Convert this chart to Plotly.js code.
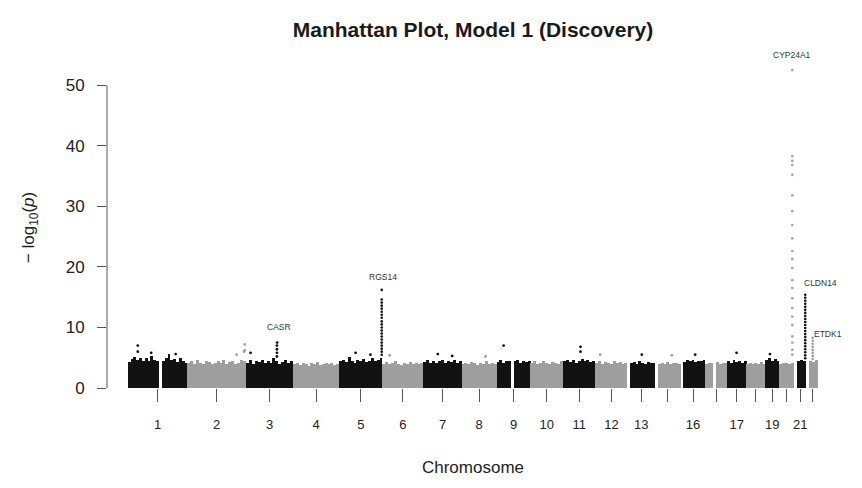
<!DOCTYPE html>
<html>
<head>
<meta charset="utf-8">
<script src="https://cdn.plot.ly/plotly-3.0.1.min.js"></script>
<style>
html,body{margin:0;padding:0;background:#fff;}
#chart{width:862px;height:488px;}
</style>
</head>
<body>
<div id="chart"></div>
<script>
// ---------------- data ----------------
const chromosomes = [1,2,3,4,5,6,7,8,9,10,11,12,13,14,15,16,17,18,19,20,21,22];
const chrLengthMb = [249.3,243.2,198.0,191.2,180.9,171.1,159.1,146.4,141.2,135.5,135.0,133.9,115.2,107.3,102.5,90.4,81.2,78.1,59.1,63.0,48.1,51.3];
const tickLabels = ["1","2","3","4","5","6","7","8","9","10","11","12","13","","16","","17","","19","","21",""];

// upper edge of the dense band of points (-log10 p), read along each chromosome
const envelope = [
  [4.3,4.8,5.2,4.6,5.0,4.4,4.9,4.5,5.3,4.7,4.5,0,4.4,4.9,5.6,4.6,4.8,4.3,5.0,4.5,4.2],
  [4.1,4.4,3.9,4.6,4.2,4.0,4.5,4.3,3.9,4.2,4.4,4.1,4.7,4.0,4.3,4.5,3.9,4.2,4.6,4.4],
  [4.2,4.6,4.0,4.4,4.3,4.7,4.1,4.5,4.2,4.9,4.4,4.0,4.3,4.6,4.2,4.4],
  [3.9,4.1,3.8,4.2,4.0,3.7,4.1,3.9,4.3,3.8,4.0,4.2,3.9,4.1,3.8,4.0],
  [4.4,4.7,4.3,5.1,4.5,4.2,4.6,4.4,4.8,4.3,4.5,4.9,4.4,4.6,5.0],
  [4.0,4.3,3.9,4.1,4.4,4.0,3.8,4.2,4.0,4.3,3.9,4.1,4.0,4.2],
  [4.3,4.6,4.2,4.5,4.1,4.4,4.7,4.2,4.5,4.3,4.6,4.2,4.4],
  [4.0,4.2,3.9,4.3,4.1,3.8,4.2,4.0,4.4,3.9,4.1,4.0],
  [4.3,4.6,4.2,4.4,4.5,0,4.4,4.7,4.2,4.5,4.3,4.4],
  [4.1,4.4,4.0,4.2,4.5,4.1,3.9,4.3,4.2,4.0,4.4],
  [4.4,4.7,4.3,4.6,4.2,4.5,4.8,4.4,4.6,4.3,4.5],
  [4.1,4.4,4.0,4.3,4.2,3.9,4.4,4.1,4.3,4.0,4.2],
  [0,4.1,4.3,4.0,4.4,4.2,3.9,4.3,4.1,4.2],
  [0,3.9,4.2,4.0,4.3,3.9,4.1,4.2,4.0],
  [0,4.3,4.6,4.4,4.7,4.3,4.5,4.4,4.6],
  [4.0,4.2,4.1,0,4.3,4.0,4.2,4.1],
  [4.4,4.2,4.6,4.3,4.5,4.2,4.4],
  [4.0,4.2,3.9,4.1,4.0,4.3,3.9],
  [4.6,4.9,4.5,4.8,4.4],
  [4.0,4.2,4.1,3.9,4.2],
  [0,4.4,4.7,4.5],
  [0,4.5,4.3,4.6]
];

// isolated points standing above the dense band
const hitChr   = [1,   1,   1,   1,   2,   2,   2,   2,   3,   3,   3,   3,   3,   3,   5,   5,   6,   7,   7,   8,   9,   11,  11,  12,  13,  14,  15,  17,  19];
const hitPosMb = [42,  42,  98,  200, 205, 236, 239, 239, 20,  130, 130, 130, 130, 131, 69,  131, 30,  60,  120, 100, 29,  73,  73,  20,  60,  70,  60,  40,  20];
const hitLogP  = [7.0, 6.0, 5.8, 5.6, 5.5, 6.0, 7.2, 6.2, 5.8, 5.2, 5.8, 6.4, 7.0, 7.5, 5.8, 5.5, 5.4, 5.6, 5.3, 5.2, 7.0, 6.8, 6.0, 5.5, 5.5, 5.4, 5.5, 5.8, 5.6];

// stacked signals (columns of points) at the annotated loci
const columnChr   = [5, 20, 21, 22];
const columnPosMb = [178, 54, 45, 28];
const rgs14LogP   = [16.2,14.6,14.1,13.6,13.1,12.6,12.1,11.6,11.0,10.5,10.0,9.5,9.0,8.5,8.0,7.5,7.0,6.5,6.0,5.5];
const cyp24a1LogP = [52.5,38.3,37.5,36.8,35.2,31.8,29.2,26.9,24.7,22.6,21.3,19.8,17.8,16.5,14.8,13.2,11.8,10.4,8.5,7.5,6.3,5.5];
const cldn14LogP  = [15.4,14.9,14.4,13.9,13.4,12.9,12.4,11.9,11.4,10.9,10.4,9.9,9.4,8.9,8.4,7.9,7.4,6.9,6.4,5.9,5.4,4.9];
const etdk1LogP   = [8.3,7.8,7.3,6.8,6.3,5.8,5.3,4.8];

const geneLabels   = ["CASR","RGS14","CYP24A1","CLDN14","ETDK1"];
const geneLabelChr = [3, 5, 20, 21, 22];
const geneLabelPos = [130, 178, 54, 45, 28];
const geneTopLogP  = [7.5, 16.2, 52.5, 15.4, 8.3];

const yTicks = [0,10,20,30,40,50];

// ---------------- build ----------------
const DARK = '#121212', LIGHT = '#9e9e9e';
const offsets = [];
let acc = 0;
chrLengthMb.forEach(l => { offsets.push(acc); acc += l; });
const totalMb = acc;
const xMin = -0.03 * totalMb, xMax = 1.03 * totalMb;
const centers = chrLengthMb.map((l, i) => offsets[i] + l / 2);
const colorOf = c => (c % 2 === 1 ? DARK : LIGHT);
const cum = (c, p) => offsets[c - 1] + p;

const labeledTicks = centers.filter((_, i) => tickLabels[i] !== "");
const labeledText = tickLabels.filter(t => t !== "");
const unlabeledTicks = centers.filter((_, i) => tickLabels[i] === "");

const barX = [], barY = [], barW = [], barC = [];
envelope.forEach((arr, i) => {
  const w = chrLengthMb[i] / arr.length;
  arr.forEach((v, j) => {
    barX.push(offsets[i] + (j + 0.5) * w);
    barY.push(v);
    barW.push(w * 1.02);
    barC.push(colorOf(chromosomes[i]));
  });
});

const traces = [{
  type: 'bar', x: barX, y: barY, width: barW,
  marker: {color: barC, line: {width: 0}},
  hoverinfo: 'skip', showlegend: false
}];

traces.push({
  type: 'scatter', mode: 'markers', xaxis: 'x2',
  x: hitChr.map((c, i) => cum(c, hitPosMb[i])), y: hitLogP,
  marker: {size: 2.8, color: hitChr.map(colorOf)},
  cliponaxis: false, showlegend: false, hoverinfo: 'skip'
});

[rgs14LogP, cyp24a1LogP, cldn14LogP, etdk1LogP].forEach((vals, k) => {
  const c = columnChr[k];
  traces.push({
    type: 'scatter', mode: 'markers',
    x: vals.map(() => cum(c, columnPosMb[k])), y: vals,
    marker: {size: k === 1 ? 2.8 : 2.6, color: k === 1 ? '#a8a8a8' : colorOf(c)},
    cliponaxis: false, showlegend: false, hoverinfo: 'skip'
  });
});

const labelShift = [[2, 16], [1, 13], [0, 15], [15, 12], [15, 4]];
const FONT = 'Liberation Sans, Arial, sans-serif';
const annotations = geneLabels.map((g, i) => ({
  x: cum(geneLabelChr[i], geneLabelPos[i]), y: geneTopLogP[i],
  xref: 'x', yref: 'y', text: g, showarrow: false,
  xshift: labelShift[i][0], yshift: labelShift[i][1],
  font: {family: FONT, size: 8.5, color: '#333'}
}));

const layout = {
  width: 862, height: 488,
  margin: {l: 107, r: 23, t: 67, b: 100, pad: 0},
  paper_bgcolor: '#fff', plot_bgcolor: '#fff',
  bargap: 0,
  font: {family: FONT, color: '#222'},
  title: {text: 'Manhattan Plot, Model 1 (Discovery)', font: {family: FONT, size: 21, weight: 'bold', color: '#1a1a1a'},
          x: 0.5, xref: 'paper', xanchor: 'center', y: 0.94, yref: 'container', yanchor: 'middle'},
  xaxis: {
    range: [xMin, xMax], tickmode: 'array', tickvals: labeledTicks, ticktext: labeledText,
    ticks: 'outside', ticklen: 13, tickwidth: 1, tickcolor: '#555',
    tickfont: {family: FONT, size: 13, color: '#222'}, ticklabelstandoff: 11,
    showgrid: false, zeroline: false, showline: false, fixedrange: true,
    title: {text: 'Chromosome', font: {family: FONT, size: 17, color: '#222'}, standoff: 30}
  },
  xaxis2: {
    matches: 'x', overlaying: 'x', anchor: 'y', side: 'bottom',
    tickmode: 'array', tickvals: unlabeledTicks, showticklabels: false,
    ticks: 'outside', ticklen: 13, tickwidth: 1, tickcolor: '#555',
    showgrid: false, zeroline: false, showline: false, fixedrange: true
  },
  yaxis: {
    range: [0, 53], tickmode: 'array', tickvals: yTicks,
    ticks: 'outside', ticklen: 9, tickwidth: 1, tickcolor: '#555',
    tickfont: {family: FONT, size: 17, color: '#222'}, ticklabelstandoff: 9,
    showgrid: false, zeroline: false, showline: false, fixedrange: true,
    title: {text: '\u2212 log<sub>10</sub>(<i>p</i>)', font: {family: FONT, size: 17, color: '#222'}, standoff: 26}
  },
  shapes: [{type: 'line', xref: 'paper', yref: 'y', x0: 0, x1: 0, y0: yTicks[0], y1: yTicks[yTicks.length - 1],
            line: {color: '#555', width: 1}}],
  annotations: annotations
};

Plotly.newPlot('chart', traces, layout, {displayModeBar: false, staticPlot: true});
</script>
</body>
</html>
